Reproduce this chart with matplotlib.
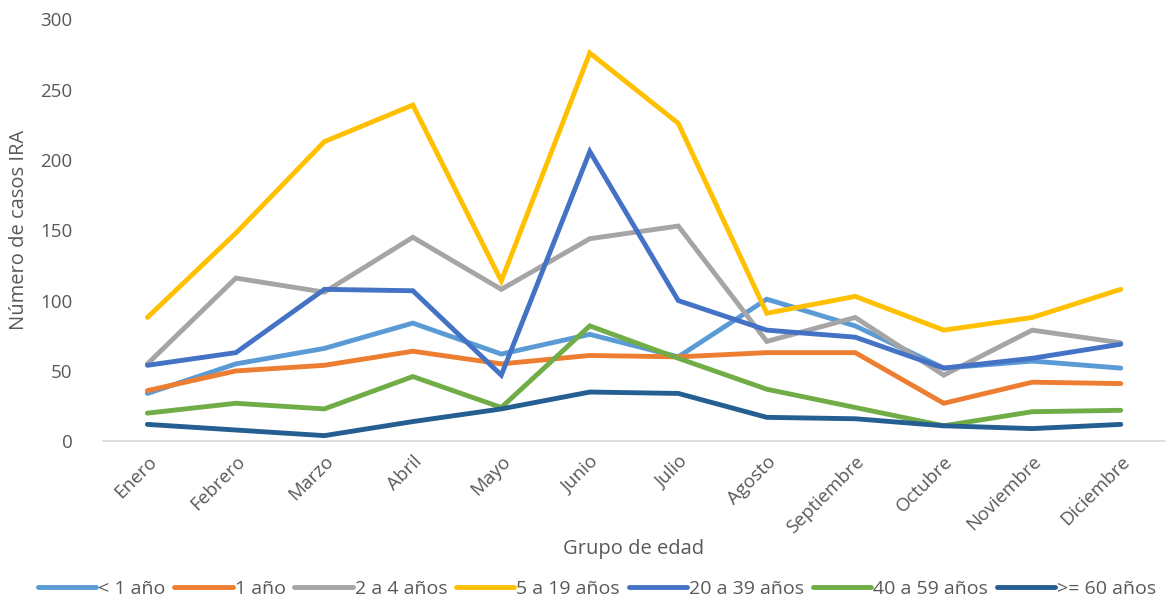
import matplotlib.pyplot as plt

plt.rcParams['font.family'] = ['Open Sans', 'DejaVu Sans']

# Casos IRA por mes y grupo de edad
meses = ['Enero', 'Febrero', 'Marzo', 'Abril', 'Mayo', 'Junio', 'Julio',
         'Agosto', 'Septiembre', 'Octubre', 'Noviembre', 'Diciembre']

menor_1 = [34, 55, 66, 84, 62, 76, 60, 101, 82, 52, 57, 52]
uno = [36, 50, 54, 64, 55, 61, 60, 63, 63, 27, 42, 41]
de_2_a_4 = [55, 116, 106, 145, 108, 144, 153, 71, 88, 47, 79, 70]
de_5_a_19 = [88, 148, 213, 239, 114, 276, 226, 91, 103, 79, 88, 108]
de_20_a_39 = [54, 63, 108, 107, 47, 206, 100, 79, 74, 52, 59, 69]
de_40_a_59 = [20, 27, 23, 46, 24, 82, 59, 37, 24, 11, 21, 22]
mayor_60 = [12, 8, 4, 14, 23, 35, 34, 17, 16, 11, 9, 12]

series = [
    ('< 1 año', menor_1, '#5B9BD5'),
    ('1 año', uno, '#ED7D31'),
    ('2 a 4 años', de_2_a_4, '#A5A5A5'),
    ('5 a 19 años', de_5_a_19, '#FFC000'),
    ('20 a 39 años', de_20_a_39, '#4472C4'),
    ('40 a 59 años', de_40_a_59, '#70AD47'),
    ('>= 60 años', mayor_60, '#255E91'),
]

fig = plt.figure(figsize=(11.72, 6.02), dpi=100)
ax = fig.add_axes([0.088, 0.267, 0.906, 0.701])

x = range(len(meses))
for nombre, valores, color in series:
    ax.plot(x, valores, color=color, linewidth=3.5, label=nombre,
            solid_capstyle='round', solid_joinstyle='miter')

gris = '#595959'
ax.set_xlim(-0.5, len(meses) - 0.5)
ax.set_ylim(0, 300)
ax.set_yticks(range(0, 301, 50))
ax.set_xticks(list(x))
ax.set_xticklabels(meses, rotation=45, ha='right', rotation_mode='anchor')
ax.tick_params(axis='both', length=0, labelsize=13.5, colors=gris)
ax.tick_params(axis='x', pad=8)
ax.tick_params(axis='y', pad=22)

for lado in ['top', 'right', 'left']:
    ax.spines[lado].set_visible(False)
ax.spines['bottom'].set_color('#D9D9D9')
ax.spines['bottom'].set_linewidth(1.2)

ax.set_ylabel('Número de casos IRA', fontsize=14.5, color=gris, labelpad=8)
ax.set_xlabel('Grupo de edad', fontsize=14.5, color=gris, labelpad=2)

ax.legend(loc='center', bbox_to_anchor=(0.465, -0.35), ncol=7,
          frameon=False, fontsize=14, labelcolor=gris, handlelength=3.0,
          handletextpad=0.1, columnspacing=0.45)

fig.savefig('out.png', dpi=100)
